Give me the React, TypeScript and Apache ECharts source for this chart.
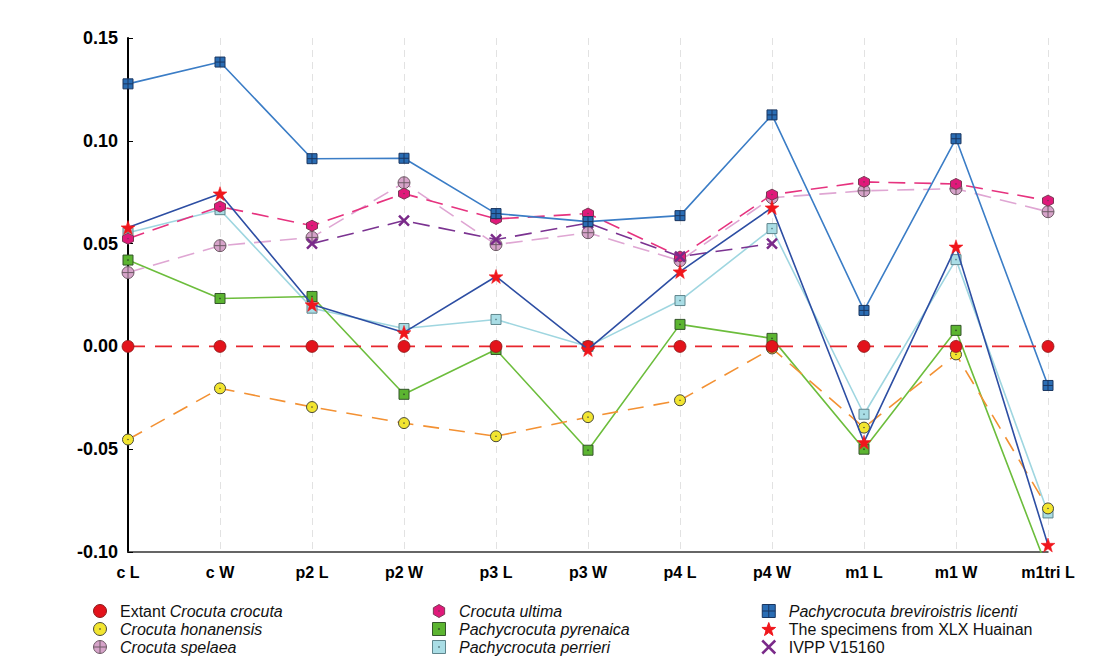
import React, { useEffect, useRef } from 'react';
import * as echarts from 'echarts';

const categories = ['c L', 'c W', 'p2 L', 'p2 W', 'p3 L', 'p3 W', 'p4 L', 'p4 W', 'm1 L', 'm1 W', 'm1tri L'];
const yTicks = { min: -0.1, max: 0.15, interval: 0.05 };

const extant = [0, 0, 0, 0, 0, 0, 0, 0, 0, 0, 0];
const honanensis = [-0.0453, -0.0204, -0.0295, -0.0373, -0.0437, -0.0344, -0.0262, -0.001, -0.0395, -0.0039, -0.0788];
const spelaea = [0.0359, 0.049, 0.053, 0.0796, 0.0495, 0.0553, 0.0417, 0.0723, 0.0757, 0.0767, 0.0655];
const ultima = [0.0524, 0.068, 0.0587, 0.0743, 0.062, 0.0646, 0.0437, 0.0738, 0.080, 0.079, 0.0709];
const pyrenaica = [0.042, 0.0233, 0.0243, -0.0233, -0.0015, -0.0505, 0.0107, 0.0039, -0.050, 0.0078, -0.109];
const perrieri = [0.0553, 0.0665, 0.0186, 0.0087, 0.0131, 0.0, 0.0223, 0.0573, -0.033, 0.0422, -0.081];
const licenti = [0.1277, 0.1383, 0.0913, 0.0915, 0.0646, 0.0607, 0.0636, 0.1126, 0.0175, 0.101, -0.019];
const xlx = [0.0578, 0.0743, 0.0204, 0.0068, 0.034, -0.0015, 0.0364, 0.0675, -0.0466, 0.0485, -0.0966];
const ivpp = [null, null, 0.050, 0.0612, 0.052, 0.060, 0.0437, 0.050, null, null, null];

const N_EXTANT = 'Extant Crocuta crocuta';
const N_HON = 'Crocuta honanensis';
const N_SPE = 'Crocuta spelaea';
const N_ULT = 'Crocuta ultima';
const N_PYR = 'Pachycrocuta pyrenaica';
const N_PER = 'Pachycrocuta perrieri';
const N_LIC = 'Pachycrocuta breviroistris licenti';
const N_XLX = 'The specimens from XLX Huainan';
const N_IVPP = 'IVPP V15160';

const P_CIRCLE = 'path://M0,10 A10,10 0 1,1 20,10 A10,10 0 1,1 0,10 Z';
const P_CIRCLE_DOT = 'path://M0,10 A10,10 0 1,1 20,10 A10,10 0 1,1 0,10 Z M9.3,10 A0.7,0.7 0 1,1 10.7,10 A0.7,0.7 0 1,1 9.3,10 Z';
const P_CIRCLE_CROSS = 'path://M0,10 A10,10 0 1,1 20,10 A10,10 0 1,1 0,10 Z M10,0 L10,20 M0,10 L20,10';
const P_HEX_DOT = 'path://M10,0 L18.66,5 L18.66,15 L10,20 L1.34,15 L1.34,5 Z M9.3,10 A0.7,0.7 0 1,1 10.7,10 A0.7,0.7 0 1,1 9.3,10 Z';
const P_SQ_DOT = 'path://M0,0 L20,0 L20,20 L0,20 Z M9.2,9.2 L10.8,9.2 L10.8,10.8 L9.2,10.8 Z';
const P_SQ_CROSS = 'path://M0,0 L20,0 L20,20 L0,20 Z M10,0 L10,20 M0,10 L20,10';
const P_STAR = 'path://M10,0 L12.35,6.76 L19.51,6.91 L13.8,11.24 L15.88,18.09 L10,14 L4.12,18.09 L6.2,11.24 L0.49,6.91 L7.65,6.76 Z';
const P_X = 'path://M0,0 L20,20 M20,0 L0,20';

const FONT = 'Liberation Sans, Arial, sans-serif';

type Def = {
  name: string; data: (number | null)[]; line: string; dash: number[] | null;
  symbol: string; size: number; fill: string; border: string; bw: number; z: number;
};

const defs: Def[] = [
  { name: N_PER, data: perrieri, line: '#9fd6e0', dash: null, symbol: P_SQ_DOT, size: 10, fill: '#a9dde5', border: '#5f858c', bw: 1, z: 2 },
  { name: N_PYR, data: pyrenaica, line: '#6cbd3c', dash: null, symbol: P_SQ_DOT, size: 10, fill: '#5cb531', border: '#34552a', bw: 1, z: 3 },
  { name: N_HON, data: honanensis, line: '#f39133', dash: [16, 10], symbol: P_CIRCLE_DOT, size: 11, fill: '#f2e530', border: '#4a4a3a', bw: 1, z: 4 },
  { name: N_SPE, data: spelaea, line: '#dfa6d3', dash: [17, 9], symbol: P_CIRCLE_CROSS, size: 12, fill: '#d6a3c9', border: '#6e5a66', bw: 1, z: 5 },
  { name: N_ULT, data: ultima, line: '#e6337f', dash: [17, 9], symbol: P_HEX_DOT, size: 11, fill: '#e0197a', border: '#7a3a55', bw: 1, z: 6 },
  { name: N_IVPP, data: ivpp, line: '#7b3391', dash: [17, 9], symbol: P_X, size: 10, fill: '#7a2a89', border: '#7a2a89', bw: 2.5, z: 7 },
  { name: N_LIC, data: licenti, line: '#3b7dc6', dash: null, symbol: P_SQ_CROSS, size: 10, fill: '#2a6db4', border: '#1a3660', bw: 1, z: 8 },
  { name: N_EXTANT, data: extant, line: '#e8262d', dash: [17, 10], symbol: P_CIRCLE, size: 12, fill: '#e3131b', border: '#8a1a1a', bw: 0.8, z: 9 },
  { name: N_XLX, data: xlx, line: '#2d4ea3', dash: null, symbol: P_STAR, size: 14, fill: '#f0161c', border: '#f0161c', bw: 0.5, z: 10 },
];

const byName: Record<string, Def> = {};
defs.forEach((d) => { byName[d.name] = d; });

const legendCols = [
  { left: 88, names: [N_EXTANT, N_HON, N_SPE] },
  { left: 427, names: [N_ULT, N_PYR, N_PER] },
  { left: 756, names: [N_LIC, N_XLX, N_IVPP] },
];

const formatName = (name: string) => {
  if (name === N_EXTANT) return '{n|Extant }{i|Crocuta crocuta}';
  if (name === N_XLX || name === N_IVPP) return '{n|' + name + '}';
  return '{i|' + name + '}';
};

export default function App() {
  const ref = useRef<HTMLDivElement>(null);
  useEffect(() => {
    const chart = echarts.init(ref.current!, null, { renderer: 'svg' });
    const option: any = {
      animation: false,
      backgroundColor: '#ffffff',
      grid: { left: 128, right: 59, top: 38, bottom: 117, containLabel: false },
      xAxis: {
        type: 'category',
        data: categories,
        boundaryGap: false,
        axisLine: { show: true, onZero: false, lineStyle: { color: '#333', width: 1.5 } },
        axisTick: { show: false },
        splitLine: { show: true, lineStyle: { color: '#e2e2e2', type: [7, 5], width: 1 } },
        axisLabel: { color: '#000', fontWeight: 'bold', fontSize: 16, fontFamily: FONT, margin: 12 },
      },
      yAxis: {
        type: 'value',
        min: yTicks.min,
        max: yTicks.max,
        interval: yTicks.interval,
        axisLine: { show: true, lineStyle: { color: '#000', width: 2 } },
        axisTick: { show: true, inside: true, length: 5, lineStyle: { color: '#000', width: 1 } },
        splitLine: { show: false },
        axisLabel: {
          color: '#000', fontWeight: 'bold', fontSize: 18, fontFamily: FONT, margin: 10,
          formatter: (v: number) => v.toFixed(2),
        },
      },
      legend: legendCols.map((col) => ({
        orient: 'vertical',
        left: col.left,
        top: 598,
        itemWidth: 30,
        itemHeight: 13,
        itemGap: 2,
        selectedMode: false,
        formatter: formatName,
        textStyle: {
          color: '#111', fontSize: 16, lineHeight: 16, fontFamily: FONT,
          rich: {
            i: { fontStyle: 'italic', fontSize: 16, lineHeight: 16, fontFamily: FONT, color: '#111' },
            n: { fontSize: 16, lineHeight: 16, fontFamily: FONT, color: '#111' },
          },
        },
        data: col.names.map((n) => {
          const d = byName[n];
          return {
            name: n,
            icon: d.symbol,
            itemStyle: { color: d.fill, borderColor: d.border, borderWidth: d.symbol === P_X ? 2.5 : 1 },
          };
        }),
      })),
      series: defs.map((d) => ({
        name: d.name,
        type: 'line',
        data: d.data,
        z: d.z,
        clip: true,
        connectNulls: false,
        symbol: d.symbol,
        symbolSize: d.size,
        showAllSymbol: true,
        lineStyle: { color: d.line, width: 1.6, type: d.dash ? d.dash : 'solid' },
        itemStyle: { color: d.fill, borderColor: d.border, borderWidth: d.bw },
        emphasis: { disabled: true },
      })),
    };
    chart.setOption(option);
    return () => chart.dispose();
  }, []);
  return (
    <div
      ref={ref}
      style={{ position: 'fixed', left: 0, top: 0, width: 1107, height: 669, background: '#fff' }}
    />
  );
}
